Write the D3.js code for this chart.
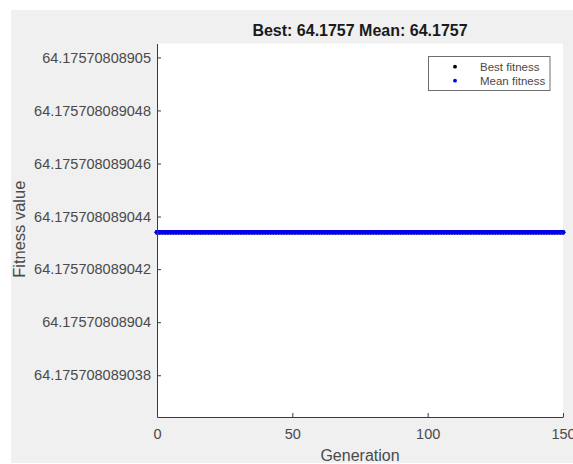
<!DOCTYPE html>
<html>
<head>
<meta charset="utf-8">
<script src="https://cdn.jsdelivr.net/npm/d3@7"></script>
<style>
  html, body { margin: 0; padding: 0; background: #ffffff; }
  svg { display: block; }
</style>
</head>
<body>
<script>
// Generation index of every recorded population
const generations = [
  0, 1, 2, 3, 4, 5, 6, 7, 8, 9,
  10, 11, 12, 13, 14, 15, 16, 17, 18, 19,
  20, 21, 22, 23, 24, 25, 26, 27, 28, 29,
  30, 31, 32, 33, 34, 35, 36, 37, 38, 39,
  40, 41, 42, 43, 44, 45, 46, 47, 48, 49,
  50, 51, 52, 53, 54, 55, 56, 57, 58, 59,
  60, 61, 62, 63, 64, 65, 66, 67, 68, 69,
  70, 71, 72, 73, 74, 75, 76, 77, 78, 79,
  80, 81, 82, 83, 84, 85, 86, 87, 88, 89,
  90, 91, 92, 93, 94, 95, 96, 97, 98, 99,
  100, 101, 102, 103, 104, 105, 106, 107, 108, 109,
  110, 111, 112, 113, 114, 115, 116, 117, 118, 119,
  120, 121, 122, 123, 124, 125, 126, 127, 128, 129,
  130, 131, 132, 133, 134, 135, 136, 137, 138, 139,
  140, 141, 142, 143, 144, 145, 146, 147, 148, 149,
  150
];

// Best fitness per generation
const bestFitness = [
  64.1757080890434, 64.1757080890434, 64.1757080890434, 64.1757080890434, 64.1757080890434, 64.1757080890434, 64.1757080890434, 64.1757080890434, 64.1757080890434, 64.1757080890434,
  64.1757080890434, 64.1757080890434, 64.1757080890434, 64.1757080890434, 64.1757080890434, 64.1757080890434, 64.1757080890434, 64.1757080890434, 64.1757080890434, 64.1757080890434,
  64.1757080890434, 64.1757080890434, 64.1757080890434, 64.1757080890434, 64.1757080890434, 64.1757080890434, 64.1757080890434, 64.1757080890434, 64.1757080890434, 64.1757080890434,
  64.1757080890434, 64.1757080890434, 64.1757080890434, 64.1757080890434, 64.1757080890434, 64.1757080890434, 64.1757080890434, 64.1757080890434, 64.1757080890434, 64.1757080890434,
  64.1757080890434, 64.1757080890434, 64.1757080890434, 64.1757080890434, 64.1757080890434, 64.1757080890434, 64.1757080890434, 64.1757080890434, 64.1757080890434, 64.1757080890434,
  64.1757080890434, 64.1757080890434, 64.1757080890434, 64.1757080890434, 64.1757080890434, 64.1757080890434, 64.1757080890434, 64.1757080890434, 64.1757080890434, 64.1757080890434,
  64.1757080890434, 64.1757080890434, 64.1757080890434, 64.1757080890434, 64.1757080890434, 64.1757080890434, 64.1757080890434, 64.1757080890434, 64.1757080890434, 64.1757080890434,
  64.1757080890434, 64.1757080890434, 64.1757080890434, 64.1757080890434, 64.1757080890434, 64.1757080890434, 64.1757080890434, 64.1757080890434, 64.1757080890434, 64.1757080890434,
  64.1757080890434, 64.1757080890434, 64.1757080890434, 64.1757080890434, 64.1757080890434, 64.1757080890434, 64.1757080890434, 64.1757080890434, 64.1757080890434, 64.1757080890434,
  64.1757080890434, 64.1757080890434, 64.1757080890434, 64.1757080890434, 64.1757080890434, 64.1757080890434, 64.1757080890434, 64.1757080890434, 64.1757080890434, 64.1757080890434,
  64.1757080890434, 64.1757080890434, 64.1757080890434, 64.1757080890434, 64.1757080890434, 64.1757080890434, 64.1757080890434, 64.1757080890434, 64.1757080890434, 64.1757080890434,
  64.1757080890434, 64.1757080890434, 64.1757080890434, 64.1757080890434, 64.1757080890434, 64.1757080890434, 64.1757080890434, 64.1757080890434, 64.1757080890434, 64.1757080890434,
  64.1757080890434, 64.1757080890434, 64.1757080890434, 64.1757080890434, 64.1757080890434, 64.1757080890434, 64.1757080890434, 64.1757080890434, 64.1757080890434, 64.1757080890434,
  64.1757080890434, 64.1757080890434, 64.1757080890434, 64.1757080890434, 64.1757080890434, 64.1757080890434, 64.1757080890434, 64.1757080890434, 64.1757080890434, 64.1757080890434,
  64.1757080890434, 64.1757080890434, 64.1757080890434, 64.1757080890434, 64.1757080890434, 64.1757080890434, 64.1757080890434, 64.1757080890434, 64.1757080890434, 64.1757080890434,
  64.1757080890434
];

// Mean fitness of the population per generation
const meanFitness = [
  64.1757080890434, 64.1757080890434, 64.1757080890434, 64.1757080890434, 64.1757080890434, 64.1757080890434, 64.1757080890434, 64.1757080890434, 64.1757080890434, 64.1757080890434,
  64.1757080890434, 64.1757080890434, 64.1757080890434, 64.1757080890434, 64.1757080890434, 64.1757080890434, 64.1757080890434, 64.1757080890434, 64.1757080890434, 64.1757080890434,
  64.1757080890434, 64.1757080890434, 64.1757080890434, 64.1757080890434, 64.1757080890434, 64.1757080890434, 64.1757080890434, 64.1757080890434, 64.1757080890434, 64.1757080890434,
  64.1757080890434, 64.1757080890434, 64.1757080890434, 64.1757080890434, 64.1757080890434, 64.1757080890434, 64.1757080890434, 64.1757080890434, 64.1757080890434, 64.1757080890434,
  64.1757080890434, 64.1757080890434, 64.1757080890434, 64.1757080890434, 64.1757080890434, 64.1757080890434, 64.1757080890434, 64.1757080890434, 64.1757080890434, 64.1757080890434,
  64.1757080890434, 64.1757080890434, 64.1757080890434, 64.1757080890434, 64.1757080890434, 64.1757080890434, 64.1757080890434, 64.1757080890434, 64.1757080890434, 64.1757080890434,
  64.1757080890434, 64.1757080890434, 64.1757080890434, 64.1757080890434, 64.1757080890434, 64.1757080890434, 64.1757080890434, 64.1757080890434, 64.1757080890434, 64.1757080890434,
  64.1757080890434, 64.1757080890434, 64.1757080890434, 64.1757080890434, 64.1757080890434, 64.1757080890434, 64.1757080890434, 64.1757080890434, 64.1757080890434, 64.1757080890434,
  64.1757080890434, 64.1757080890434, 64.1757080890434, 64.1757080890434, 64.1757080890434, 64.1757080890434, 64.1757080890434, 64.1757080890434, 64.1757080890434, 64.1757080890434,
  64.1757080890434, 64.1757080890434, 64.1757080890434, 64.1757080890434, 64.1757080890434, 64.1757080890434, 64.1757080890434, 64.1757080890434, 64.1757080890434, 64.1757080890434,
  64.1757080890434, 64.1757080890434, 64.1757080890434, 64.1757080890434, 64.1757080890434, 64.1757080890434, 64.1757080890434, 64.1757080890434, 64.1757080890434, 64.1757080890434,
  64.1757080890434, 64.1757080890434, 64.1757080890434, 64.1757080890434, 64.1757080890434, 64.1757080890434, 64.1757080890434, 64.1757080890434, 64.1757080890434, 64.1757080890434,
  64.1757080890434, 64.1757080890434, 64.1757080890434, 64.1757080890434, 64.1757080890434, 64.1757080890434, 64.1757080890434, 64.1757080890434, 64.1757080890434, 64.1757080890434,
  64.1757080890434, 64.1757080890434, 64.1757080890434, 64.1757080890434, 64.1757080890434, 64.1757080890434, 64.1757080890434, 64.1757080890434, 64.1757080890434, 64.1757080890434,
  64.1757080890434, 64.1757080890434, 64.1757080890434, 64.1757080890434, 64.1757080890434, 64.1757080890434, 64.1757080890434, 64.1757080890434, 64.1757080890434, 64.1757080890434,
  64.1757080890434
];

// Axis limits and ticks
const xDomain = [0, 150];
const xTickValues = [0, 50, 100, 150];
const yDomain = [64.17570808903642, 64.17570808905053];
const yTickValues = [
  64.17570808905, 64.175708089048, 64.175708089046, 64.175708089044,
  64.175708089042, 64.17570808904, 64.175708089038
];
const yTickLabels = [
  "64.17570808905", "64.175708089048", "64.175708089046", "64.175708089044",
  "64.175708089042", "64.17570808904", "64.175708089038"
];

const legendNames = ["Best fitness", "Mean fitness"];
const seriesColors = ["#000000", "#0000ff"];
const xLabel = "Generation";
const yLabel = "Fitness value";

// ---- layout ----
const W = 573, H = 464;
const plot = { left: 157, right: 563, top: 43.5, bottom: 417 };
const FONT = "'Liberation Sans', Arial, Helvetica, sans-serif";
const AXIS_COLOR = "#3a3a3a";
const TEXT_COLOR = "#4a4a4a";

const svg = d3.select("body").append("svg")
  .attr("width", W).attr("height", H)
  .style("font-family", FONT);

// figure background
svg.append("rect").attr("x", 11).attr("y", 10)
  .attr("width", W - 11).attr("height", H - 11)
  .attr("fill", "#f0f0f0");

// axes background
svg.append("rect")
  .attr("x", plot.left).attr("y", plot.top)
  .attr("width", plot.right - plot.left).attr("height", plot.bottom - plot.top)
  .attr("fill", "#ffffff");

const x = d3.scaleLinear().domain(xDomain).range([plot.left, plot.right]);
const y = d3.scaleLinear().domain(yDomain).range([plot.bottom, plot.top]);

// series points ('.' markers), best first so the mean sits on top
const series = [bestFitness, meanFitness];
series.forEach((vals, si) => {
  svg.append("g").selectAll("circle")
    .data(generations.map((g, i) => ({ g, v: vals[i] })))
    .join("circle")
    .attr("cx", d => x(d.g))
    .attr("cy", d => y(d.v))
    .attr("r", 2.4)
    .attr("fill", seriesColors[si]);
});

// x axis (ticks point inward)
const xAxis = d3.axisBottom(x)
  .tickValues(xTickValues)
  .tickFormat(d3.format("d"))
  .tickSizeInner(-4).tickSizeOuter(0).tickPadding(12);
const gx = svg.append("g")
  .attr("transform", `translate(0,${plot.bottom})`)
  .call(xAxis);
gx.select(".domain").attr("stroke", AXIS_COLOR);
gx.selectAll(".tick line").attr("stroke", AXIS_COLOR);
gx.selectAll(".tick text")
  .attr("fill", TEXT_COLOR)
  .style("font-size", "14.5px")
  .style("font-family", FONT);

// y axis (ticks point inward)
const yAxis = d3.axisLeft(y)
  .tickValues(yTickValues)
  .tickFormat((d, i) => yTickLabels[i])
  .tickSizeInner(-4).tickSizeOuter(0).tickPadding(6);
const gy = svg.append("g")
  .attr("transform", `translate(${plot.left},0)`)
  .call(yAxis);
gy.select(".domain").attr("stroke", AXIS_COLOR);
gy.selectAll(".tick line").attr("stroke", AXIS_COLOR);
gy.selectAll(".tick text")
  .attr("fill", TEXT_COLOR)
  .style("font-size", "14.5px")
  .style("font-family", FONT);

// title
const bestVal = d3.min(bestFitness);
const meanVal = d3.mean(meanFitness);
svg.append("text")
  .attr("x", (plot.left + plot.right) / 2)
  .attr("y", 36)
  .attr("text-anchor", "middle")
  .attr("fill", "#1a1a1a")
  .style("font-size", "16px")
  .style("font-weight", "bold")
  .text(`Best: ${bestVal.toFixed(4)} Mean: ${meanVal.toFixed(4)}`);

// axis labels
svg.append("text")
  .attr("x", (plot.left + plot.right) / 2)
  .attr("y", 461)
  .attr("text-anchor", "middle")
  .attr("fill", TEXT_COLOR)
  .style("font-size", "16px")
  .text(xLabel);

svg.append("text")
  .attr("transform", `translate(25,${(plot.top + plot.bottom) / 2 - 1}) rotate(-90)`)
  .attr("text-anchor", "middle")
  .attr("fill", TEXT_COLOR)
  .style("font-size", "16.5px")
  .text(yLabel);

// legend
const legend = { x: 428.5, y: 56.5, w: 121.5, h: 34 };
svg.append("rect")
  .attr("x", legend.x).attr("y", legend.y)
  .attr("width", legend.w).attr("height", legend.h)
  .attr("fill", "#ffffff")
  .attr("stroke", "#6e6e6e").attr("stroke-width", 1);

legendNames.forEach((name, i) => {
  const cy = legend.y + 10.2 + i * 14;
  svg.append("circle")
    .attr("cx", legend.x + 26.5).attr("cy", cy)
    .attr("r", 1.9).attr("fill", seriesColors[i]);
  svg.append("text")
    .attr("x", legend.x + 51.5).attr("y", cy)
    .attr("dy", "0.35em")
    .attr("fill", TEXT_COLOR)
    .style("font-size", "11.5px")
    .text(name);
});
</script>
</body>
</html>
